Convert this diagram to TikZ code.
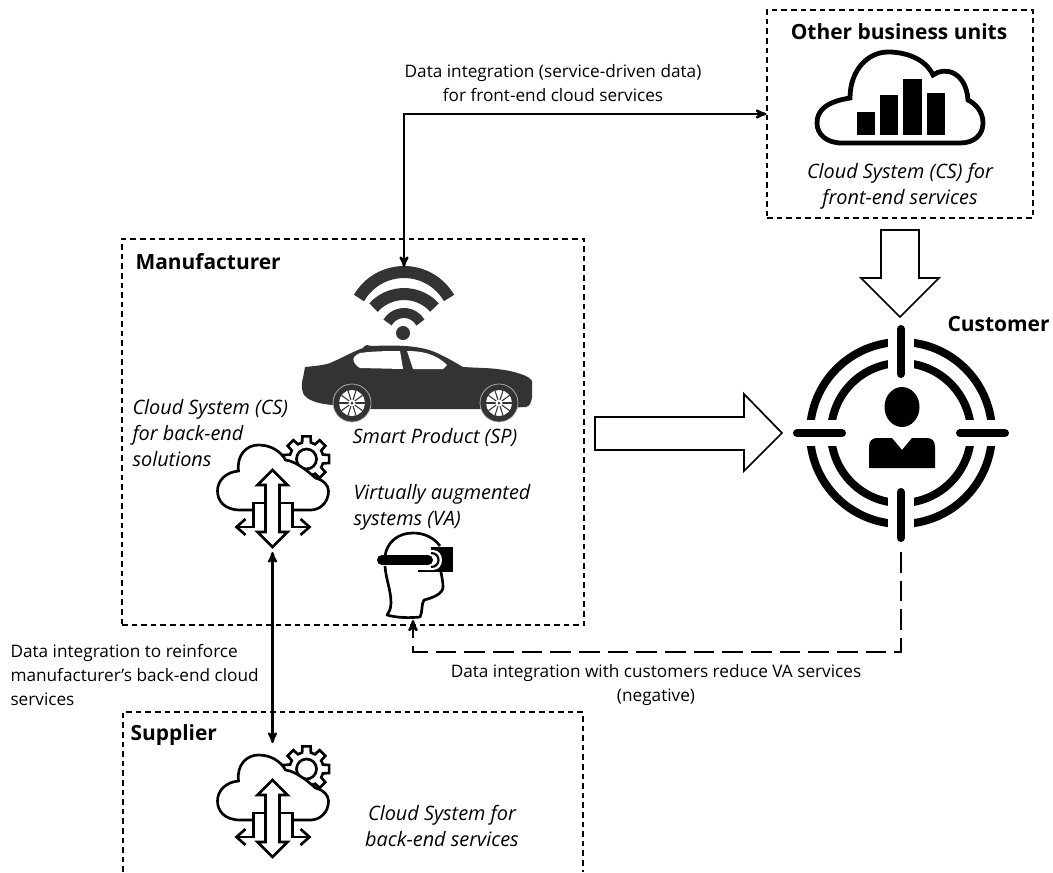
\documentclass[tikz,border=0pt]{standalone}
\usepackage{fontspec}
\setmainfont{Open Sans}
\usetikzlibrary{arrows}
\usepackage{xcolor}
\definecolor{cardark}{HTML}{333333}

\tikzset{
	dash box/.style={draw,line width=.8pt,dash pattern=on 4.2pt off 3pt,minimum width=#1,inner sep=0pt},
	icon node/.style={inner sep=0pt,outer sep=0pt},
	name text/.style={font=\fontsize{15.7}{18}\selectfont\bfseries,inner sep=0pt},
	info text/.style={font=\fontsize{14.9}{19.5}\selectfont\itshape,align=center,inner sep=0pt},
	data text/.style={font=\fontsize{12.9}{18}\selectfont,align=center,inner sep=0pt},
	block arrow/.style={draw,fill=white,line width=1.3pt,line join=miter},
	pics/backend cloud/.style={code={
		\draw[line width=2pt,fill=white,shift={(34,14)}] (-15:17)
			\foreach \a in {0,45,...,315} {-- ({\a-15}:17) -- ({\a-10}:23) -- ({\a+10}:23) -- ({\a+15}:17)} -- cycle;
		\draw[line width=2pt] (34,14) circle (10);
		\draw[line width=2pt,fill=white] (-19,65) -- (-32,65) .. controls (-48,65) and (-55,56) .. (-55,46)
			.. controls (-55,35) and (-46,27) .. (-34,26) .. controls (-36,10) and (-26,0) .. (-14,0)
			.. controls (-2,0) and (8,6) .. (13,15) .. controls (22,16) and (33,24) .. (43,33)
			.. controls (51,35) and (56,40) .. (56,46) .. controls (56,57) and (48,65) .. (38,65) -- (20,65);
		\fill[white] (-19,58) rectangle (20,82);
		\draw[line width=2pt] (-36,82) -- (-19,82) -- (-19,58) -- (20,58) -- (20,82) -- (37,82);
		\draw[line width=2pt] (-27,74) -- (-36,82) -- (-27,90);
		\draw[line width=2pt] (28,74) -- (37,82) -- (28,90);
		\draw[line width=2pt,fill=white,line join=miter] (0,25) -- (15,40) -- (7,40) -- (7,87) -- (15,87) -- (0,102)
			-- (-15,87) -- (-7,87) -- (-7,40) -- (-15,40) -- cycle;
	}},
}

\begin{document}
\begin{tikzpicture}[x=.75pt,y=-.75pt,>=stealth',thick,line cap=butt]
	\useasboundingbox (0,0) rectangle (1053,872);
	\clip (0,0) rectangle (1053,872);

	% the three boxes
	\node (units) [dash box=199.5pt,minimum height=156pt] at (900,114) {};
	\node (manufacturer) [dash box=346.5pt,minimum height=289.5pt] at (353,432) {};
	\draw[line width=.8pt,dash pattern=on 4.2pt off 3pt] (123,872) -- (123,712) -- (583,712) -- (583,872);

	% box names
	\node (unitsname) [name text] at (899,32) {Other business units};
	\node (manufacturername) [name text,anchor=west] at (135,262) {Manufacturer};
	\node (suppliername) [name text,anchor=west] at (130,735) {Supplier};
	\node (customername) [name text,anchor=west] at (947,324) {Customer};

	% icon places
	\node (wifi) [icon node,minimum width=75pt,minimum height=49.5pt] at (404,300) {};
	\node (car) [icon node,minimum width=172.5pt,minimum height=57pt] at (417,385) {};
	\node (cloudb) [icon node,minimum width=84pt,minimum height=85.5pt] at (272.5,495) {};
	\node (clouds) [icon node,minimum width=84pt,minimum height=85.5pt] at (272.5,800) {};
	\node (headset) [icon node,minimum width=58.5pt,minimum height=63pt] at (413,578) {};
	\node (target) [icon node,minimum width=162pt,minimum height=178.5pt] at (901,433) {};
	\node (cloudf) [icon node,minimum width=125pt,minimum height=72pt] at (900,97) {};
	\coordinate (turn) at (413,652);

	% wifi
	\fill[cardark] (403,333) circle (7);
	\foreach \r/\cy/\w/\t in {52/324/9pt/60,41/335/9pt/48,19/332/7.5pt/60}
		\draw[cardark,line width=\w] ([shift={(-90-\t:\r)}]404,\cy) arc[start angle=-90-\t,end angle=-90+\t,radius=\r];

	% car
	\fill[cardark] (305,367) .. controls (315,366) and (325,365) .. (330,363) .. controls (342,358) and (352,352) .. (363,348)
		.. controls (365,344) and (369,345) .. (372,346) .. controls (395,345) and (420,345) .. (437,353)
		.. controls (448,358) and (456,363) .. (463,367) .. controls (480,368) and (490,368) .. (497,369)
		.. controls (515,371) and (530,376) .. (532,381) -- (532,397) .. controls (531,403) and (530,406) .. (526,407)
		-- (480,409) -- (372,409) -- (333,405) .. controls (318,404) and (306,400) .. (303,393)
		.. controls (301,388) and (302,380) .. (303,378) -- cycle;
	\fill[white] (354,362) .. controls (352,358) and (355,355) .. (360,353) .. controls (375,351) and (390,351) .. (400,351)
		-- (403,369) -- (361,368) .. controls (358,368) and (356,365) .. (354,362) -- cycle;
	\fill[white] (407,351) .. controls (420,351) and (435,353) .. (447,365) -- (443,369) -- (413,369) -- cycle;
	\foreach \wx in {352,499} {
		\draw[fill=cardark,draw=white!75!black,line width=.5pt] (\wx,403) circle (19);
		\fill[white] (\wx,403) circle (13);
		\foreach \a in {0,36,...,324}
			\draw[cardark,line width=.8pt] (\wx,403) -- ++(\a:13);
		\fill[white] (\wx,403) circle (3.5);
		\fill[cardark] (\wx,403) circle (1.5);
	}

	% front-end cloud
	\draw[line width=3.6pt,fill=white] (842,143) .. controls (826,143) and (817,134) .. (817,123)
		.. controls (817,112) and (824,102) .. (850,98) .. controls (850,70) and (868,52) .. (888,52)
		.. controls (908,52) and (926,60) .. (933,75) .. controls (945,66) and (966,72) .. (968,100)
		.. controls (976,104) and (983,112) .. (983,123) .. controls (983,135) and (974,143) .. (960,143) -- cycle;
	\fill (857,112) rectangle (875,135);
	\fill (880,95) rectangle (898,135);
	\fill (903,79) rectangle (922,135);
	\fill (927,93) rectangle (945,135);

	% back-end clouds
	\pic at (272.5,445) {backend cloud};
	\pic at (272.5,755) {backend cloud};

	% headset
	\draw[line width=2pt,line join=round] (385,556) .. controls (387,542) and (398,533) .. (413,533)
		.. controls (425,533) and (434,538) .. (440,546);
	\draw[line width=2pt,line join=round] (385,566) .. controls (386,580) and (391,590) .. (391,603)
		.. controls (391,610) and (388,613) .. (387,615) .. controls (398,618) and (410,618) .. (420,617)
		.. controls (423,610) and (421,605) .. (424,600) .. controls (432,598) and (443,594) .. (443,587)
		.. controls (443,582) and (442,578) .. (441,572);
	\fill (431,547) rectangle (453,572);
	\fill (418,570) rectangle (431,572);
	\fill[white] (425,550) -- (433,550) .. controls (445,550) and (445,570) .. (433,570) -- (425,570) -- cycle;
	\draw[line width=1.6pt] (431,553) .. controls (441,553) and (441,567) .. (431,567);
	\draw[line width=7.5pt,line cap=round] (382,560) -- (428,560);

	% target
	\draw[line width=6pt] (901,433) circle (91);
	\draw[line width=6pt] (901,433) circle (70);
	\fill[white] (888,335) rectangle (914,531);
	\fill[white] (803,420) rectangle (999,446);
	\draw[line width=6pt,line cap=round] (901,329) -- (901,374);
	\draw[line width=6pt,line cap=round] (901,492) -- (901,538);
	\draw[line width=6pt,line cap=round] (797,433) -- (842,433);
	\draw[line width=6pt,line cap=round] (960,433) -- (1005,433);
	\fill (902,407) ellipse (17.5 and 20);
	\fill (869,468) -- (869,447) .. controls (869,441) and (872,438) .. (877,438) -- (892,438) -- (902,450) -- (912,438)
		-- (927,438) .. controls (932,438) and (935,441) .. (935,447) -- (935,468) -- cycle;

	% block arrows
	\draw[block arrow] (595,417) -- (744,417) -- (744,394) -- (782,433) -- (744,471) -- (744,450) -- (595,450) -- cycle;
	\draw[block arrow] (881,230) -- (919,230) -- (919,278) -- (939,278) -- (900,317) -- (861,278) -- (881,278) -- cycle;

	% texts
	\node (unitsinfo) [info text] at (900,186) {Cloud System (CS) for\\front-end services};
	\node (carinfo) [info text] at (435,438) {Smart Product (SP)};
	\node (cloudbinfo) [info text,align=left,anchor=west] at (132,433) {Cloud System (CS)\\for back-end\\solutions};
	\node (headsetinfo) [info text,align=left,anchor=west] at (353,507) {Virtually augmented\\systems (VA)};
	\node (cloudsinfo) [info text] at (442,826) {Cloud System for\\back-end services};
	\node (toplabel) [data text] at (553,83) {Data integration (service-driven data)\\for front-end cloud services};
	\node (leftlabel) [data text,align=left,anchor=west] at (10,675) {Data integration to reinforce\\manufacturer’s back-end cloud\\services};
	\node (bottomlabel) [data text] at (656,685) {Data integration with customers reduce VA services\\(negative)};

	% connectors
	\draw[<->,line width=1.7pt] (wifi.north) |- (units.west);
	\path[<->,line width=1.7pt] (cloudb.south) edge (clouds.north);
	\draw[->,line width=1.8pt,dash pattern=on 15.5pt off 6pt] (target.south) |- (turn) -- (headset.south);
\end{tikzpicture}
\end{document}
